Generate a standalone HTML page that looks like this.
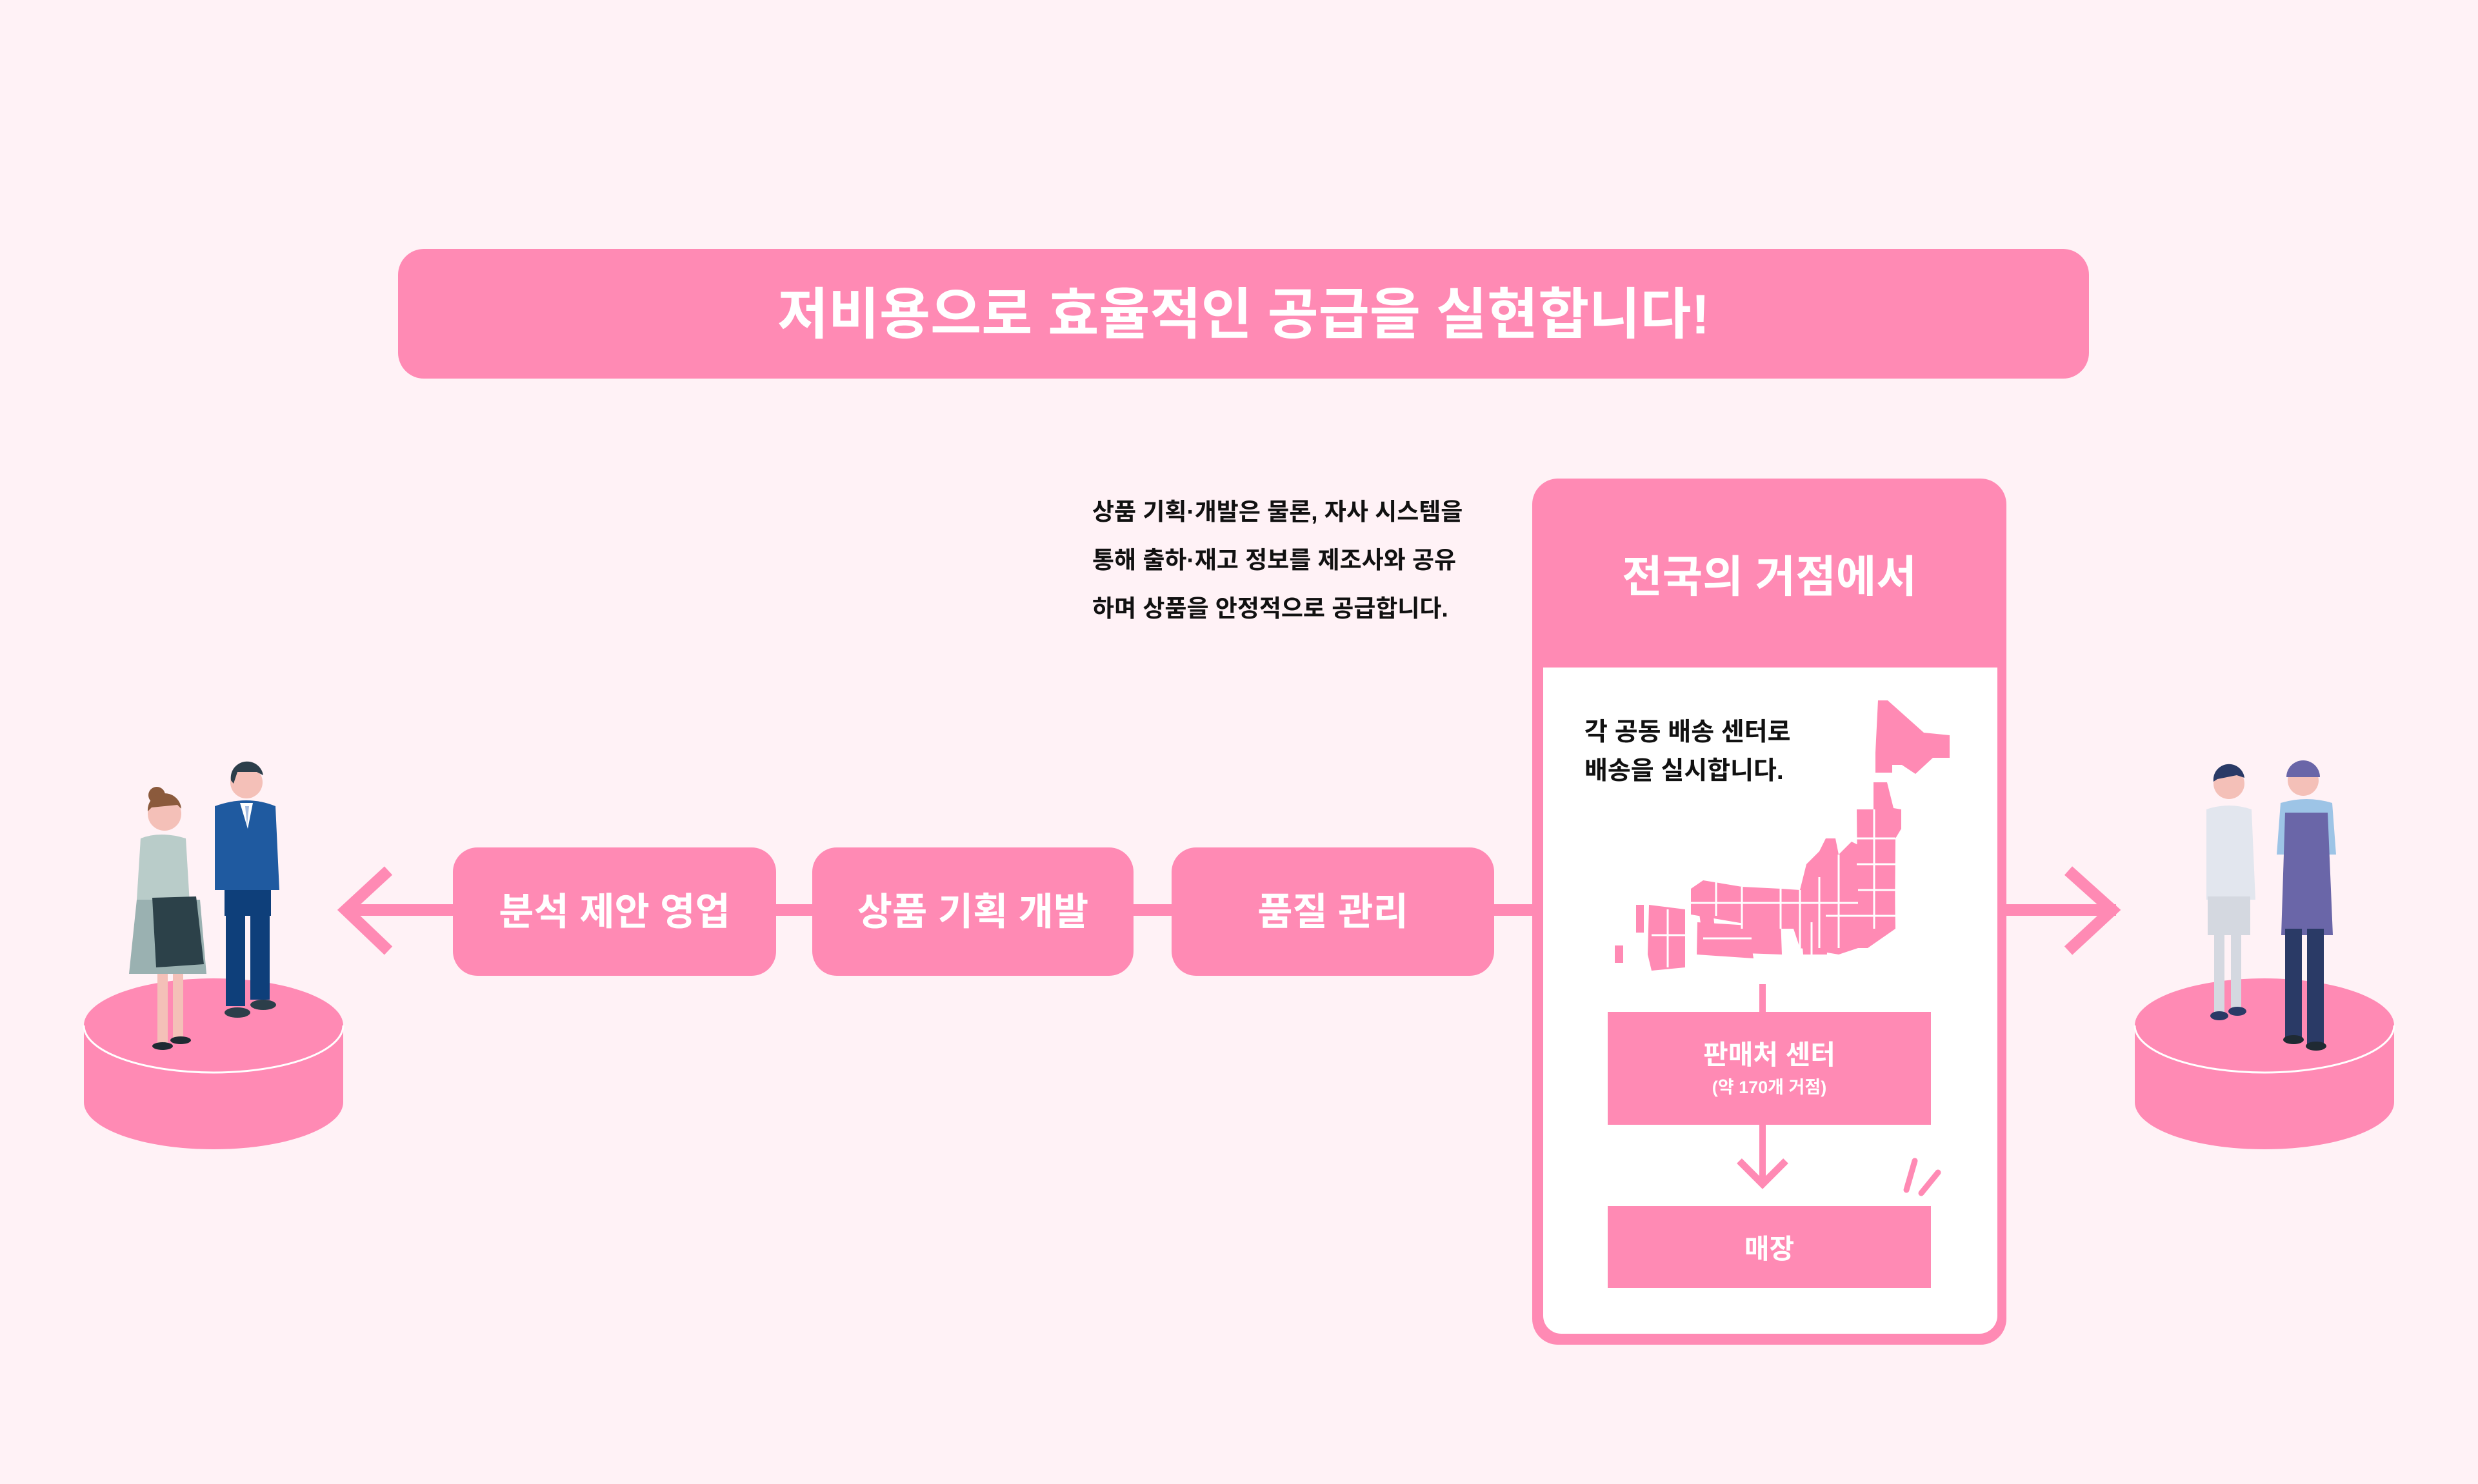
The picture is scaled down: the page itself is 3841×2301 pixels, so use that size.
<!DOCTYPE html>
<html><head><meta charset="utf-8"><style>
html,body{margin:0;padding:0}
body{width:3841px;height:2301px;background:#fff2f6;position:relative;overflow:hidden;font-family:"Liberation Sans","Noto Sans CJK KR",sans-serif;font-weight:bold}
.a{position:absolute}
.pk{background:#ff8ab4}
.c{display:flex;align-items:center;justify-content:center;color:#fff}
</style></head><body>
<svg class="a" style="left:0;top:0" width="3841" height="2301">
<rect x="540" y="1402" width="2740" height="18" fill="#ff8ab4"/>
<polyline points="602,1350 536,1411 602,1474" fill="none" stroke="#ff8ab4" stroke-width="18"/>
<polyline points="3206,1350 3274,1411 3206,1474" fill="none" stroke="#ff8ab4" stroke-width="18"/>
<g fill="#ff8ab4">
<rect x="130" y="1590" width="402" height="119"/><ellipse cx="331" cy="1709" rx="201" ry="73"/><ellipse cx="331" cy="1590" rx="201" ry="73"/>
<rect x="3309" y="1590" width="402" height="119"/><ellipse cx="3510" cy="1709" rx="201" ry="73"/><ellipse cx="3510" cy="1590" rx="201" ry="73"/>
</g>
<path d="M130,1590 A201,73 0 0 0 532,1590" fill="none" stroke="#fff" stroke-width="3"/>
<path d="M3309,1590 A201,73 0 0 0 3711,1590" fill="none" stroke="#fff" stroke-width="3"/>
<circle cx="243" cy="1233" r="13" fill="#8b5a3c"/>
<circle cx="255" cy="1262" r="26" fill="#f4c0b8"/>
<path d="M229,1258 a26,26 0 0 1 52,-4 l-6,-6 -40,4z" fill="#8b5a3c"/>
<path d="M218,1300 q30,-12 70,0 l6,100 -80,0z" fill="#b9ccc9"/>
<path d="M218,1300 l-6,95 10,0 8,-70z" fill="#b9ccc9"/>
<path d="M212,1395 l98,0 10,115 -120,0z" fill="#9ab1b1"/>
<path d="M236,1392 l68,-2 12,105 -74,5z" fill="#2c4149"/>
<rect x="244" y="1510" width="16" height="110" fill="#f4c0b8"/><rect x="268" y="1510" width="16" height="100" fill="#f4c0b8"/>
<ellipse cx="252" cy="1622" rx="16" ry="6" fill="#1f2a33"/><ellipse cx="280" cy="1613" rx="16" ry="6" fill="#1f2a33"/>
<circle cx="382" cy="1213" r="25" fill="#f4c0b8"/>
<path d="M358,1210 a25,25 0 0 1 50,-8 l-10,-5 -30,0 -6,18z" fill="#2c3e4a"/>
<path d="M333,1250 q50,-18 94,0 l6,130 -100,0z" fill="#1f5aa0"/>
<path d="M372,1245 l20,0 -8,40z" fill="#fff"/><path d="M380,1250 l6,0 -3,30z" fill="#a7bde0"/>
<rect x="348" y="1380" width="72" height="40" fill="#0e3f7a"/>
<rect x="350" y="1410" width="30" height="150" fill="#0e3f7a"/><rect x="388" y="1410" width="30" height="140" fill="#0e3f7a"/>
<ellipse cx="368" cy="1570" rx="20" ry="8" fill="#2c3e4a"/><ellipse cx="408" cy="1558" rx="20" ry="8" fill="#2c3e4a"/>
<circle cx="3455" cy="1215" r="24" fill="#f4c0b8"/>
<path d="M3431,1212 a24,24 0 0 1 48,-6 l-12,-4 -30,6z" fill="#2a3a66"/>
<path d="M3420,1255 q35,-12 70,0 l6,140 -76,0z" fill="#e2e6ee"/>
<rect x="3422" y="1390" width="66" height="60" fill="#d4d8e0"/>
<rect x="3432" y="1450" width="16" height="120" fill="#d4d8e0"/><rect x="3458" y="1450" width="16" height="115" fill="#d4d8e0"/>
<ellipse cx="3440" cy="1575" rx="14" ry="7" fill="#2a3a66"/><ellipse cx="3468" cy="1568" rx="14" ry="7" fill="#2a3a66"/>
<circle cx="3570" cy="1210" r="24" fill="#f4c0b8"/>
<path d="M3544,1205 a26,26 0 0 1 52,0z" fill="#6a66a8"/>
<path d="M3535,1245 q40,-12 80,0 l6,80 -92,0z" fill="#9dc4e6"/>
<path d="M3542,1260 l66,0 8,190 -80,0z" fill="#6a66a8"/>
<rect x="3542" y="1440" width="26" height="170" fill="#2a3a66"/><rect x="3576" y="1440" width="26" height="180" fill="#2a3a66"/>
<ellipse cx="3555" cy="1612" rx="16" ry="7" fill="#1f2a33"/><ellipse cx="3590" cy="1622" rx="16" ry="7" fill="#1f2a33"/>
</svg>

<div class="a pk c" style="left:617px;top:386px;width:2621px;height:201px;border-radius:40px;font-size:86px;padding-bottom:14px;box-sizing:border-box">저비용으로 효율적인 공급을 실현합니다!</div>

<div class="a" style="left:1693px;top:756px;font-size:37px;line-height:75px;color:#111;white-space:nowrap">상품 기획·개발은 물론, 자사 시스템을<br>통해 출하·재고 정보를 제조사와 공유<br>하며 상품을 안정적으로 공급합니다.</div>

<div class="a pk c" style="left:702px;top:1314px;width:501px;height:199px;border-radius:38px;font-size:59px;padding-bottom:10px;box-sizing:border-box">분석 제안 영업</div>
<div class="a pk c" style="left:1259px;top:1314px;width:498px;height:199px;border-radius:38px;font-size:59px;padding-bottom:10px;box-sizing:border-box">상품 기획 개발</div>
<div class="a pk c" style="left:1816px;top:1314px;width:500px;height:199px;border-radius:38px;font-size:59px;padding-bottom:10px;box-sizing:border-box">품질 관리</div>

<div class="a pk" style="left:2375px;top:742px;width:735px;height:1343px;border-radius:40px"></div>
<div class="a c" style="left:2375px;top:742px;width:735px;height:293px;font-size:68px">전국의 거점에서</div>
<div class="a" style="left:2392px;top:1035px;width:704px;height:1033px;background:#fff;border-radius:0 0 28px 28px"></div>
<div class="a" style="left:2456px;top:1106px;font-size:39px;line-height:60px;color:#111;white-space:nowrap">각 공동 배송 센터로<br>배송을 실시합니다.</div>

<svg class="a" style="left:0;top:0" width="3841" height="2301">
<g fill="#ff8ab4">
<polygon points="2911,1086 2926,1086 2982,1136 3022,1140 3022,1175 2996,1175 2969,1200 2948,1186 2933,1186 2933,1198 2907,1198 2907,1167"/>
<polygon points="2904,1213 2925,1213 2935,1253 2947,1255 2947,1285 2938,1300 2937,1440 2915,1440 2904,1420"/>
<polygon points="2878,1255 2935,1255 2938,1440 2895,1470 2880,1470"/>
<polygon points="2880,1310 2880,1470 2850,1480 2790,1470 2780,1440 2720,1440 2715,1434 2621,1418 2621,1378 2640,1365 2670,1370 2700,1375 2760,1378 2790,1380 2800,1340 2820,1320 2830,1300 2845,1300 2850,1325 2870,1305"/>
<polygon points="2631,1430 2710,1435 2718,1486 2630,1480"/>
<polygon points="2633,1410 2655,1412 2660,1458 2640,1460"/>
<polygon points="2700,1430 2760,1425 2762,1480 2705,1478"/>
<polygon points="2790,1420 2830,1420 2832,1480 2795,1480"/>
<polygon points="2556,1403 2612,1410 2612,1500 2560,1505 2554,1480"/>
<polygon points="2536,1403 2548,1403 2548,1446 2536,1446"/>
<polygon points="2503,1466 2516,1466 2516,1493 2503,1493"/>
</g>
<g stroke="#fff" stroke-width="3" fill="none">
<path d="M2878,1300 H2938 M2878,1340 H2938 M2880,1380 H2938 M2905,1255 V1440 M2850,1325 V1470 M2820,1360 V1470 M2790,1380 V1470 M2760,1378 V1440 M2700,1375 V1440 M2660,1368 V1420 M2621,1400 H2880 M2830,1420 H2938 M2560,1450 H2612 M2585,1410 V1500 M2640,1455 H2715 M2808,1430 V1480"/>
</g>
<rect x="2727" y="1526" width="10" height="43" fill="#ff8ab4"/>
<rect x="2727" y="1744" width="10" height="84" fill="#ff8ab4"/>
<polyline points="2696,1800 2732,1836 2768,1800" fill="none" stroke="#ff8ab4" stroke-width="11"/>
<path d="M2955,1845 L2968,1800 M2978,1850 L3004,1818" stroke="#ff8ab4" stroke-width="9" stroke-linecap="round"/>
</svg>

<div class="a pk c" style="left:2492px;top:1569px;width:501px;height:175px;flex-direction:column;line-height:1.2"><div style="font-size:42px">판매처 센터</div><div style="font-size:27px;margin-top:8px">(약 170개 거점)</div></div>
<div class="a pk c" style="left:2492px;top:1870px;width:501px;height:127px;font-size:42px">매장</div>
</body></html>
